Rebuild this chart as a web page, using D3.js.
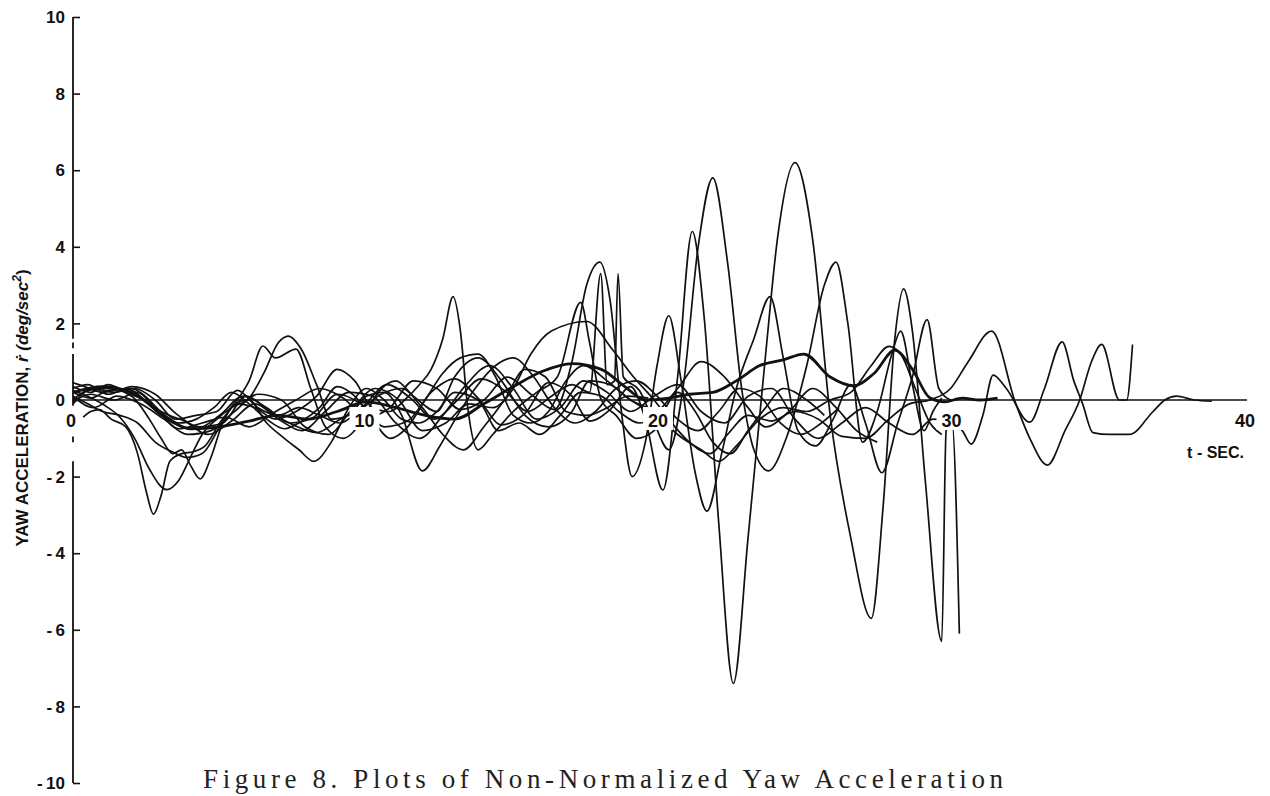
<!DOCTYPE html>
<html>
<head>
<meta charset="utf-8">
<script src="https://cdn.jsdelivr.net/npm/d3@7/dist/d3.min.js"></script>
<style>
  html, body { margin: 0; padding: 0; background: #fff; }
  svg { display: block; }
</style>
</head>
<body>
<svg id="chart" width="1270" height="796"></svg>
<script>
// Yaw acceleration runs, [t (sec), r-dot (deg/sec^2)]
const runA = [[0,0.45],[0.4,0.35],[1,0.2],[1.8,0.3],[2.6,-0.1],[3.4,-0.6],[4.2,-0.75],[5,-0.4],[5.8,0.1],[6.6,-0.2],[7.4,-0.6],[8.2,-0.45],[9,0.15],[9.8,-0.1],[10.6,-0.7],[11.4,-0.55],[12.2,0.2],[13,0.55],[13.8,0.05],[14.6,-0.65],[15.4,-0.35],[16.2,0.45],[17,0.1],[17.6,-0.55],[18.3,-0.25],[19,0.35],[19.5,-0.5],[20.1,-2.35],[20.6,0.6],[21.1,4.4],[21.5,2.2],[22,-3.2],[22.5,-7.4],[23,-3.6],[23.6,1.2],[24,4.2],[24.6,6.2],[25.2,4.2],[25.8,-0.4],[26.5,-3.6],[27.2,-5.7],[27.6,-2.8],[28,1.6],[28.3,2.9],[28.6,1.8],[29.05,-2.2],[29.6,-6.3],[29.75,-0.8],[29.95,-0.6],[30.2,-6.1]];
const runB = [[0,0.2],[0.6,0.05],[1.2,0.25],[2,0.3],[2.8,-0.2],[3.6,-0.75],[4.4,-0.6],[5.2,-0.45],[6,-0.7],[6.8,-0.35],[7.6,0],[8.4,0.3],[9.2,0.05],[10,-0.45],[10.8,-0.2],[11.6,0.5],[12.4,0.3],[13.2,-0.25],[14,0],[14.8,0.6],[15.6,0.15],[16.4,-0.25],[17,1.0],[17.5,3.0],[17.95,3.6],[18.3,2.6],[18.7,-0.4],[19.05,-2.0],[19.5,-1.1],[19.9,0.9],[20.3,2.2],[20.7,0.6],[21.2,-1.9],[21.6,-2.9],[22.1,-1.4],[22.6,0.3],[23.2,1.6],[23.75,2.7],[24.2,1.1],[24.7,-0.8],[25.3,-1.2],[25.9,-0.5],[26.5,0.4],[27,-0.6],[27.56,-1.9],[28.1,-0.6],[28.6,0.6],[29.1,2.1],[29.5,0.3],[29.9,0]];
const runC = [[0,0.3],[0.5,0.4],[1.2,0.15],[2,0.35],[2.8,0.15],[3.5,-0.35],[4.3,-0.7],[5.1,-0.6],[5.9,0.1],[6.7,-0.3],[7.5,-0.65],[8.3,-0.85],[9.1,-0.5],[9.9,-0.15],[10.7,0.4],[11.5,0.05],[12.3,-0.5],[13.1,0],[13.9,0.55],[14.7,0.25],[15.5,-0.3],[16.3,0.1],[17,0.4],[17.6,0.2],[17.98,3.3],[18.2,0.4],[18.45,0.5],[18.57,3.3],[18.75,0.6],[19.3,0.25],[19.8,-0.6],[20.3,-1.3],[20.8,0.4],[21.3,4.0],[21.8,5.8],[22.3,3.6],[22.8,0.2],[23.2,-1.3],[23.7,-1.85],[24.3,-1.0],[25,0.9],[25.6,3.0],[26,3.6],[26.4,2.0],[26.9,-1.1],[27.4,-0.3],[27.9,1.2],[28.2,1.8],[28.6,0.4],[29,-0.8],[29.3,-0.3],[29.6,0.05]];
const runD = [[0,0.2],[1,0.35],[2,0.2],[3,-0.35],[4,-0.75],[5,-0.7],[6,-0.55],[7,-0.4],[8,-0.5],[9,-0.3],[10,-0.05],[11,-0.2],[12,-0.4],[13,-0.5],[14,-0.1],[15,0.35],[16,0.75],[17,0.95],[18,0.8],[18.8,0.35],[19.5,0],[20.3,0.05],[21,0.15],[21.8,0.2],[22.6,0.5],[23.4,0.9],[24.2,1.05],[24.9,1.2],[25.8,0.6],[26.6,0.37],[27.3,0.7],[28,1.3],[28.6,0.8],[29.2,0.05],[29.7,-0.05],[30.3,0.05],[30.9,0],[31.5,0.05]];
const runE = [[0,0.1],[0.7,-0.2],[1.5,0.1],[2.3,-0.1],[3.1,-0.5],[3.9,-0.9],[4.7,-0.8],[5.5,-0.3],[6.3,0.15],[7.1,0],[7.9,-0.7],[8.7,-0.9],[9.5,-0.25],[10.3,0.3],[11.1,0],[11.9,-0.8],[12.7,-0.6],[13.5,-0.1],[14.3,-0.2],[15,0.3],[15.6,1.2],[16.3,1.8],[17.5,2.05],[18.4,1.3],[19.1,0.6],[19.8,0],[20.4,-0.6],[21,-1.1],[21.7,-1.4],[22.3,-0.9],[23,-0.4],[23.8,-0.55],[24.6,-0.3],[25.4,-0.5],[26.2,-0.95],[27,-1.0],[27.8,-0.5],[28.5,-0.1],[29.2,0],[29.9,0.3],[30.5,1.0],[31.3,1.8],[32.1,-0.05],[32.6,-1.0],[33.2,-1.7],[33.8,-0.8],[34.3,0],[34.7,1.0],[35.05,1.45],[35.65,0],[35.9,0],[36.1,1.45]];
const runF = [[0,-0.05],[0.6,0.15],[1.4,0],[2.2,0.2],[3,-0.3],[3.8,-0.55],[4.6,-0.9],[5.4,-0.55],[6.2,-0.1],[7,-0.5],[7.8,-0.8],[8.6,-0.3],[9.4,0.2],[10.2,0.1],[11,-0.6],[11.8,-1.0],[12.6,-0.4],[13.4,0.4],[14.2,0.9],[15,0.3],[15.8,-0.5],[16.6,-0.2],[17.4,0.5],[18.2,0.2],[19,-0.3],[19.8,0.1],[20.6,0.4],[21.4,-0.3],[22.2,-0.6],[23,0.1],[23.8,0.3],[24.6,-0.5],[25.4,-1.0],[26.2,-0.6],[27,-0.2],[27.8,-0.6],[28.6,-0.9],[29.3,-0.5],[29.9,-0.55],[30.3,-0.8],[30.6,-1.15],[31,-0.4],[31.35,0.65],[31.8,0.3],[32.6,-0.58],[33.1,0.3],[33.7,1.52],[34.1,0.5],[34.4,-0.1],[34.75,-0.85],[35.3,-0.9],[36,-0.9],[36.8,-0.3],[37.2,0],[37.6,0.1],[38.2,0],[38.8,-0.03]];
const runG = [[0.35,-0.45],[0.6,-0.3],[0.9,-0.25],[1.3,-0.5],[1.8,-0.7],[2.2,-1.4],[2.5,-2.4],[2.74,-2.98],[3,-2.5],[3.3,-1.6],[3.7,-1.4],[4.1,-1.35],[4.5,-1.2],[5,-0.6],[5.5,-0.1],[6,0.5],[6.47,1.41],[6.9,1.1],[7.6,1.33],[8.1,0.3],[8.6,-0.7],[9.2,-1.0],[9.8,-0.6],[10.4,0.2],[11,0.5],[11.6,0.1],[12.4,-0.3],[13,0.6],[13.8,1.1],[14.6,0.5],[15.4,-0.4],[16.2,-0.7],[17,-0.3],[17.6,0.5],[18.3,0.4],[19,0],[19.8,-0.3],[20.6,0.3],[21.4,1.0],[22.2,0.6],[23,-0.2],[23.6,-0.7],[24.4,-0.3],[25.2,0.3],[26,-0.2],[26.7,-0.8],[27.4,-1.1]];
const runH = [[0,0.25],[0.5,0.1],[1.1,-0.15],[1.6,-0.45],[2.1,-1.0],[2.6,-1.8],[3.19,-2.34],[3.6,-2.1],[4,-1.5],[4.4,-0.9],[4.9,-0.5],[5.4,-0.2],[6,0.05],[6.5,0.7],[7,1.5],[7.33,1.67],[7.8,1.3],[8.3,0.4],[8.8,-0.5],[9.4,-0.4],[10,0.1],[10.6,0.2],[11.2,-0.4],[11.9,-1.85],[12.5,-1.2],[13.1,-0.4],[13.7,0.3],[14.4,0.9],[15,1.1],[15.7,0.6],[16.4,-0.2],[17.1,-0.6],[17.8,-0.3],[18.5,0.3],[19.2,0.5],[19.9,0.1],[20.6,-0.5],[21.3,-0.8],[22,-0.3],[22.7,0.3],[23.4,0.1],[24.1,-0.6],[24.8,-0.9],[25.5,-0.6],[26.1,-0.2]];
const runI = [[0,0],[0.5,0.25],[1.2,0.3],[2,0.1],[2.6,-0.5],[3,-1.0],[3.4,-1.4],[3.7,-1.3],[4,-1.7],[4.33,-2.06],[4.7,-1.5],[5.1,-0.6],[5.6,-0.1],[6.2,-0.2],[6.9,-0.5],[7.6,-0.3],[8.3,0.1],[9,0.8],[9.6,0.5],[10.2,-0.2],[10.8,-0.3],[11.3,0],[11.8,0.4],[12.2,0.8],[12.6,1.6],[12.95,2.7],[13.2,1.8],[13.45,-0.2],[13.8,-1.3],[14.3,-0.9],[15,-0.3],[15.8,0.2],[16.5,0.6],[17.3,2.55],[17.6,1.5],[18,0],[18.5,-0.4],[19.2,-1.0],[19.8,-0.8],[20.3,-0.2]];
const runJ = [[0,0.1],[0.5,-0.1],[1,-0.3],[1.6,-0.4],[2.2,-0.6],[2.8,-1.1],[3.4,-1.36],[3.9,-1.5],[4.4,-1.4],[5,-0.7],[5.5,-0.1],[6,0],[6.6,-0.6],[7.2,-1.0],[7.7,-1.3],[8.2,-1.6],[8.8,-1.1],[9.4,-0.2],[10,0.3],[10.6,0],[11.2,-0.5],[11.8,-0.6],[12.4,-0.3],[13,0.2],[13.8,0],[14.5,-0.8],[15.2,-0.6],[15.9,-0.9],[16.6,-0.4],[17.3,0.2],[18,0.1],[18.6,-0.3],[19.3,-0.6],[20,-0.4],[20.6,0.2],[21.2,-0.3],[21.8,-1.1],[22.4,-1.4],[23,-0.8],[23.6,-0.2],[24.2,0.3],[25,0],[25.6,-0.4]];
const runK = [[0,0.35],[0.6,0.2],[1.2,0.4],[1.8,0.2],[2.4,0],[3,-0.4],[3.6,-0.6],[4.2,-0.5],[4.8,-0.2],[5.4,0.2],[6,-0.1],[6.6,-0.5],[7.2,-0.75],[7.8,-0.55],[8.4,-0.2],[9,0.35],[9.6,0.1],[10.2,-0.5],[10.8,-1.0],[11.4,-0.7],[12,0],[12.6,0.7],[13.2,1.1],[13.8,1.2],[14.4,0.6],[15,-0.4],[15.6,-0.6],[16.2,-0.3],[16.8,0.5],[17.4,0.9],[18.2,0.5],[19,0],[19.8,-0.3],[20.6,-0.9],[21.4,-1.3],[22,-1.6],[22.6,-1.2],[23.4,-0.5],[24.2,-0.2],[25,-0.3],[25.8,0],[26.5,0.2],[27.2,0.9],[27.8,1.4],[28.2,1.2],[28.7,0.3],[29.2,-0.6],[29.6,-0.9]];
const runL = [[0,-0.1],[0.7,0.3],[1.4,0.2],[2.1,0.3],[2.8,0],[3.5,-0.5],[4.2,-0.4],[4.9,-0.3],[5.6,0.25],[6.3,-0.2],[7,-0.4],[7.7,-0.2],[8.4,-0.4],[9.1,-0.6],[9.8,-0.25],[10.5,0.15],[11.2,0.3],[11.9,-0.2],[12.6,-0.9],[13.3,-1.3],[14,-0.7],[14.7,0],[15.4,0.8],[16.1,0.6],[16.8,-0.3],[17.5,-0.4],[18.2,-0.2],[18.9,0.1],[19.6,0.05]];

const runs = [runA, runB, runC, runE, runF, runG, runH, runI, runJ, runK, runL];
const heavyRun = runD;

const yTickValues = [-10, -8, -6, -4, -2, 0, 2, 4, 6, 8, 10];
const yTickLabels = ["-10", "-8", "-6", "-4", "-2", "0", "2", "4", "6", "8", "10"];
const xTickValues = [0, 10, 20, 30, 40];
const xTickLabels = ["0", "10", "20", "30", "40"];

const svg = d3.select("#chart");
const x = d3.scaleLinear().domain([0, 40]).range([73, 1247]);
const y = d3.scaleLinear().domain([-10, 10]).range([783, 17]);

const ink = "#111";
const line = d3.line()
  .x(d => x(d[0]))
  .y(d => y(d[1]))
  .curve(d3.curveMonotoneX);

// traces
svg.append("g")
  .selectAll("path")
  .data(runs)
  .join("path")
  .attr("d", line)
  .attr("fill", "none")
  .attr("stroke", ink)
  .attr("stroke-width", 1.7)
  .attr("stroke-linejoin", "round");

svg.append("path")
  .datum(heavyRun)
  .attr("d", line)
  .attr("fill", "none")
  .attr("stroke", ink)
  .attr("stroke-width", 2.8)
  .attr("stroke-linejoin", "round");

// time axis line along zero
svg.append("line")
  .attr("x1", x(0)).attr("x2", x(40))
  .attr("y1", y(0)).attr("y2", y(0))
  .attr("stroke", ink).attr("stroke-width", 1.6);

// vertical axis, drawn in pieces where the line is broken near the origin
const axisPieces = [[10, 1.6], [1.5, 1.35], [1.2, -0.15], [-0.95, -1.1], [-1.6, -10]];
svg.append("g")
  .selectAll("line")
  .data(axisPieces)
  .join("line")
  .attr("x1", x(0)).attr("x2", x(0))
  .attr("y1", d => y(d[0])).attr("y2", d => y(d[1]))
  .attr("stroke", ink).attr("stroke-width", 1.8);

const yAxis = d3.axisRight(y).tickValues(yTickValues).tickSize(7).tickFormat("");
const yg = svg.append("g").attr("transform", `translate(${x(0)},0)`).call(yAxis);
yg.select(".domain").remove();
yg.selectAll(".tick line").attr("stroke", ink).attr("stroke-width", 1.6);

// y tick labels
svg.append("g")
  .selectAll("text")
  .data(yTickValues)
  .join("text")
  .attr("x", 65)
  .attr("y", d => y(d))
  .attr("dy", "0.36em")
  .attr("text-anchor", "end")
  .attr("font-family", "'Liberation Sans', Arial, sans-serif")
  .attr("font-weight", "bold")
  .attr("font-size", 17)
  .attr("fill", ink)
  .text((d, i) => yTickLabels[i].replace("-", "-\u2009"));

// x tick labels, set on white so traces pass behind them
const xl = svg.append("g")
  .selectAll("g")
  .data(xTickValues)
  .join("g")
  .attr("transform", d => `translate(${x(d) - 2},${y(0) + 21})`);
xl.filter(d => d > 0 && d < 40).append("rect")
  .attr("x", -15).attr("y", -14).attr("width", 30).attr("height", 23)
  .attr("fill", "#fff");
xl.filter(d => d === 0).append("rect")
  .attr("x", -7).attr("y", -13).attr("width", 14).attr("height", 21)
  .attr("fill", "#fff");
xl.append("text")
  .attr("text-anchor", "middle")
  .attr("dy", "0.36em")
  .attr("font-family", "'Liberation Sans', Arial, sans-serif")
  .attr("font-weight", "bold")
  .attr("font-size", 18)
  .attr("fill", ink)
  .text((d, i) => xTickLabels[i]);

// axis titles
svg.append("text")
  .attr("x", 1244).attr("y", 458)
  .attr("text-anchor", "end")
  .attr("font-family", "'Liberation Sans', Arial, sans-serif")
  .attr("font-weight", "bold")
  .attr("font-size", 16)
  .attr("fill", ink)
  .text("t - SEC.");

const yt = svg.append("text")
  .attr("transform", "translate(28,408) rotate(-90)")
  .attr("text-anchor", "middle")
  .attr("font-family", "'Liberation Sans', Arial, sans-serif")
  .attr("font-weight", "bold")
  .attr("font-size", 17)
  .attr("fill", ink);
yt.append("tspan").text("YAW  ACCELERATION, ");
yt.append("tspan").attr("font-style", "italic").text("ṙ (deg/sec");
yt.append("tspan").attr("font-style", "italic").attr("font-size", 12).attr("dy", -7).text("2");
yt.append("tspan").attr("dy", 7).text(")");

// caption
svg.append("text")
  .attr("x", 203).attr("y", 788)
  .attr("font-family", "'Liberation Serif', 'DejaVu Serif', serif")
  .attr("font-size", 27)
  .attr("textLength", 800)
  .attr("lengthAdjust", "spacing")
  .attr("fill", "#222")
  .text("Figure 8.  Plots of Non-Normalized Yaw Acceleration");
</script>
</body>
</html>
